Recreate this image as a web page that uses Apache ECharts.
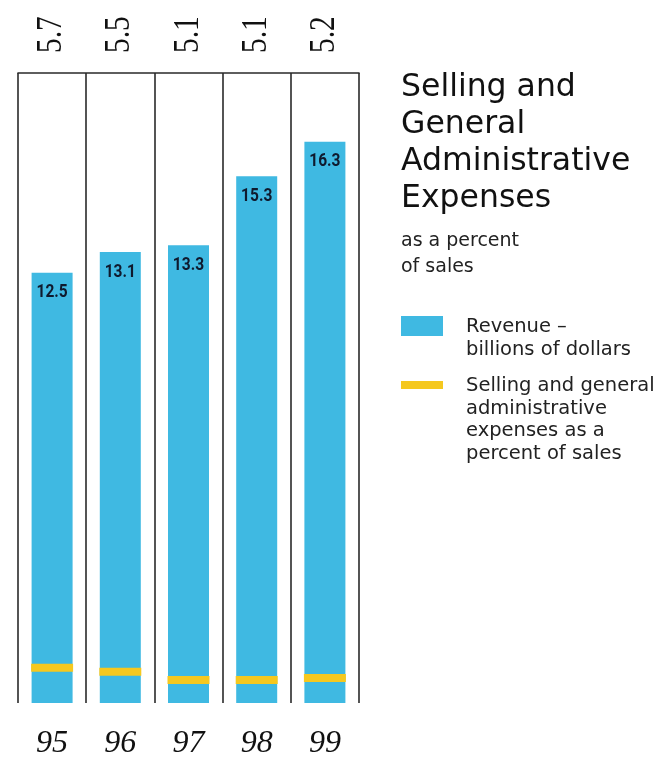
<!DOCTYPE html>
<html>
<head>
<meta charset="utf-8">
<script src="https://cdn.jsdelivr.net/npm/echarts@6/dist/echarts.min.js"></script>
<style>
  html, body { margin: 0; padding: 0; background: #fff; }
  #chart { width: 658px; height: 758px; }
</style>
</head>
<body>
<div id="chart"></div>
<script>
// Fiscal years shown along the bottom
const years = ['95', '96', '97', '98', '99'];
// Revenue, billions of dollars
const revenue = [12.5, 13.1, 13.3, 15.3, 16.3];
// Selling and general administrative expenses, percent of sales
const sgaPercent = [5.7, 5.5, 5.1, 5.1, 5.2];

const BLUE = '#3fb9e2';
const YELLOW = '#f5c81f';
const LINE = '#2a2a2a';

const chart = echarts.init(document.getElementById('chart'), null, { renderer: 'canvas' });

chart.setOption({
  animation: false,
  backgroundColor: '#ffffff',
  grid: { left: 18, right: 299, top: 73, bottom: 55, outerBoundsMode: 'none' },
  xAxis: [
    {
      type: 'category',
      data: years,
      position: 'bottom',
      axisLine: { show: false },
      axisTick: { show: false },
      splitLine: { show: true, lineStyle: { color: LINE, width: 1.6 } },
      axisLabel: {
        margin: 25,
        fontFamily: 'Liberation Serif',
        fontStyle: 'italic',
        fontSize: 32,
        color: '#111'
      }
    },
    {
      type: 'category',
      data: years,
      position: 'top',
      axisLine: { show: true, lineStyle: { color: LINE, width: 1.6 } },
      axisTick: { show: false },
      splitLine: { show: false },
      axisLabel: { show: false }
    }
  ],
  yAxis: [
    { type: 'value', min: 0, max: 18.3, show: false },
    { type: 'value', min: 4, max: 34.29, show: false }
  ],
  series: [
    {
      name: 'Revenue',
      type: 'bar',
      xAxisIndex: 0,
      yAxisIndex: 0,
      data: revenue,
      barWidth: 41,
      itemStyle: { color: BLUE },
      z: 2
    },
    {
      // condensed value labels just under each bar top
      name: 'Revenue labels',
      type: 'custom',
      xAxisIndex: 0,
      yAxisIndex: 0,
      data: revenue.map((v, i) => [i, v]),
      encode: { x: 0, y: 1 },
      z: 4,
      renderItem: function (params, api) {
        const val = api.value(1);
        const pt = api.coord([api.value(0), val]);
        return {
          type: 'text',
          x: pt[0],
          y: pt[1] + 20,
          scaleX: 0.84,
          style: {
            text: val.toFixed(1),
            font: 'bold 18.5px Roboto',
            fill: '#0f1a2e',
            align: 'center',
            verticalAlign: 'middle'
          }
        };
      }
    },
    {
      // upright-reading percent figures above each column
      name: 'Percent labels',
      type: 'custom',
      xAxisIndex: 0,
      yAxisIndex: 1,
      data: sgaPercent.map((v, i) => [i, v]),
      encode: { x: 0, y: 1 },
      z: 4,
      renderItem: function (params, api) {
        const pt = api.coord([api.value(0), api.value(1)]);
        const top = params.coordSys.y;
        return {
          type: 'text',
          x: pt[0],
          y: top - 20,
          rotation: Math.PI / 2,
          scaleX: 0.84,
          style: {
            text: api.value(1).toFixed(1),
            font: '35px "Liberation Serif"',
            fill: '#111',
            align: 'left',
            verticalAlign: 'middle'
          }
        };
      }
    },
    {
      name: 'SG&A percent',
      type: 'scatter',
      xAxisIndex: 0,
      yAxisIndex: 1,
      data: sgaPercent,
      symbol: 'rect',
      symbolSize: [42, 8],
      itemStyle: { color: YELLOW, opacity: 1 },
      z: 3
    }
  ],
  graphic: [
    {
      type: 'text',
      left: 401,
      top: 69,
      style: {
        text: 'Selling and\nGeneral\nAdministrative\nExpenses',
        fontFamily: 'DejaVu Sans',
        fontSize: 31.5,
        lineHeight: 37,
        fill: '#111'
      }
    },
    {
      type: 'text',
      left: 401,
      top: 228,
      style: {
        text: 'as a percent\nof sales',
        fontFamily: 'DejaVu Sans',
        fontSize: 19,
        lineHeight: 26,
        fill: '#222'
      }
    },
    {
      type: 'rect',
      shape: { x: 401, y: 316, width: 42, height: 20 },
      style: { fill: BLUE }
    },
    {
      type: 'text',
      left: 466,
      top: 316,
      style: {
        text: 'Revenue \u2013\nbillions of dollars',
        fontFamily: 'DejaVu Sans',
        fontSize: 19.5,
        lineHeight: 22.5,
        fill: '#222'
      }
    },
    {
      type: 'rect',
      shape: { x: 401, y: 381, width: 42, height: 8 },
      style: { fill: YELLOW }
    },
    {
      type: 'text',
      left: 466,
      top: 375,
      style: {
        text: 'Selling and general\nadministrative\nexpenses as a\npercent of sales',
        fontFamily: 'DejaVu Sans',
        fontSize: 19.5,
        lineHeight: 22.5,
        fill: '#222'
      }
    }
  ]
});
</script>
</body>
</html>
